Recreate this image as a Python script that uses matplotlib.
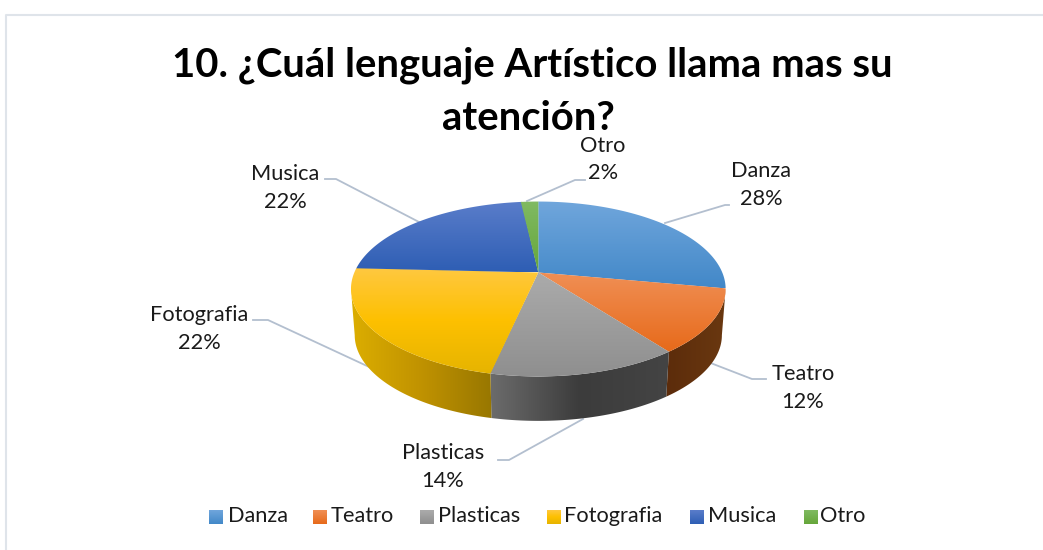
import numpy as np
import matplotlib
matplotlib.use('Agg')
import matplotlib.pyplot as plt
from matplotlib.colors import to_rgb
from matplotlib.patches import Polygon

categories = ['Danza', 'Teatro', 'Plasticas', 'Fotografia', 'Musica', 'Otro']
values = [27.9, 11.8, 13.7, 22.4, 22.4, 1.8]

# colores: degradado de la cara superior (arriba a abajo) y del lateral (izquierda a derecha)
top_colors = [('#70a6dc', '#4288c8'), ('#f08f55', '#e76a1a'), ('#ababab', '#8f8f8f'),
              ('#ffc840', '#fdc000', '#e6b400'), ('#5a7dca', '#2e5eb4'), ('#80ba62', '#66a63a')]
side_colors = [('#1f4a73', '#1f4a73'), ('#5c2c0b', '#6a3810'), ('#6c6c6c', '#3c3c3c', '#444444'),
               ('#dcae00', '#c09200', '#987700'), ('#1f3d75', '#1f3d75'), ('#3d6624', '#3d6624')]

plt.rcParams['font.family'] = ['Lato', 'DejaVu Sans']
fig = plt.figure(figsize=(10.43, 5.5), dpi=100)
ax = fig.add_axes([0, 0, 1, 1])


def proyectar(theta, top=True):
    # circulo en perspectiva, theta en grados desde las 12 en sentido horario
    t = np.radians(theta)
    x, y = np.sin(t), np.cos(t)
    dx = 975 * x / (5.3 + y)
    dy = -447 * y / (5.3 + y)
    if top:
        return 538.3 + dx, 272.5 + dy
    return 538.3 + 0.98 * dx, 319 + 0.98 * dy


def degradado(ax, poly, colores, zorder, horizontal=False):
    # rellena poly con un degradado recortando una imagen
    stops = np.array([to_rgb(c) for c in colores])
    pos = np.linspace(0, 1, len(stops))
    s = np.linspace(0, 1, 256)
    col = np.column_stack([np.interp(s, pos, stops[:, k]) for k in range(3)])
    col = col[None, :, :] if horizontal else col[:, None, :]
    ext = (poly[:, 0].min(), poly[:, 0].max(), poly[:, 1].max(), poly[:, 1].min())
    im = ax.imshow(col, extent=ext, aspect='auto', zorder=zorder, interpolation='bilinear')
    im.set_clip_path(Polygon(poly, transform=ax.transData, closed=True))


# lineas guia de las etiquetas
guias = [[(665, 223), (725, 205), (729, 205)], [(708, 362), (752, 379), (766, 379)],
         [(583, 419), (509, 460), (498, 460)], [(380, 372), (268, 320), (253, 320)],
         [(419, 222), (336, 179), (325, 179)], [(527, 201), (575, 180), (585, 180)]]
for g in guias:
    ax.plot(*zip(*g), color='#b3bfcf', lw=1.3, zorder=1)

# borde del grafico
ax.plot([6, 6, 1043], [550, 14.5, 14.5], color='#dfe4ea', lw=1.5, zorder=1)

limites = np.cumsum([0] + values) * 3.6

# laterales, solo la parte visible entre las dos tangentes
for i in range(len(values)):
    ini, fin = max(limites[i], 100.9), min(limites[i + 1], 259.1)
    if fin <= ini:
        continue
    thetas = np.linspace(ini, fin, 100)
    xa, ya = proyectar(thetas)
    xb, yb = proyectar(thetas, top=False)
    poly = np.column_stack([np.r_[xa, xb[::-1]], np.r_[ya, yb[::-1]]])
    degradado(ax, poly, side_colors[i], 2, horizontal=True)

# cara superior
for i in range(len(values)):
    thetas = np.arange(limites[i], limites[i + 1] + 0.5, 0.5)
    x, y = proyectar(thetas)
    poly = np.column_stack([np.r_[538.3, x], np.r_[272.5, y]])
    degradado(ax, poly, top_colors[i], 3)

# etiquetas
pos_etiquetas = [(761, 185), (803, 388), (443, 467), (199, 329), (285, 188), (603, 159.5)]
for cat, val, (px, py) in zip(categories, values, pos_etiquetas):
    ax.text(px, py, f'{cat}\n{round(val)}%', ha='center', va='center', fontsize=15.7,
            color='#1a1a1a', linespacing=1.45, zorder=5)

# titulo
ax.text(532.5, 65, '10. ¿Cuál lenguaje Artístico llama mas su', ha='center', va='center',
        fontsize=28.8, fontweight='bold', color='black', zorder=5)
ax.text(528.5, 118, 'atención?', ha='center', va='center',
        fontsize=28.8, fontweight='bold', color='black', zorder=5)

# leyenda
sw_x = [209, 313, 420, 547, 690, 804]
tx_x = [228, 331, 438, 564, 708, 820]
for i, cat in enumerate(categories):
    sq = np.array([[sw_x[i], 510], [sw_x[i] + 14, 510], [sw_x[i] + 14, 524], [sw_x[i], 524]], float)
    degradado(ax, sq, top_colors[i], 3)
    ax.text(tx_x[i], 516.5, cat, ha='left', va='center', fontsize=15.7, color='#1a1a1a', zorder=5)

ax.set_xlim(0, 1043)
ax.set_ylim(550, 0)
ax.axis('off')
fig.savefig('out.png', dpi=100, facecolor='white')
